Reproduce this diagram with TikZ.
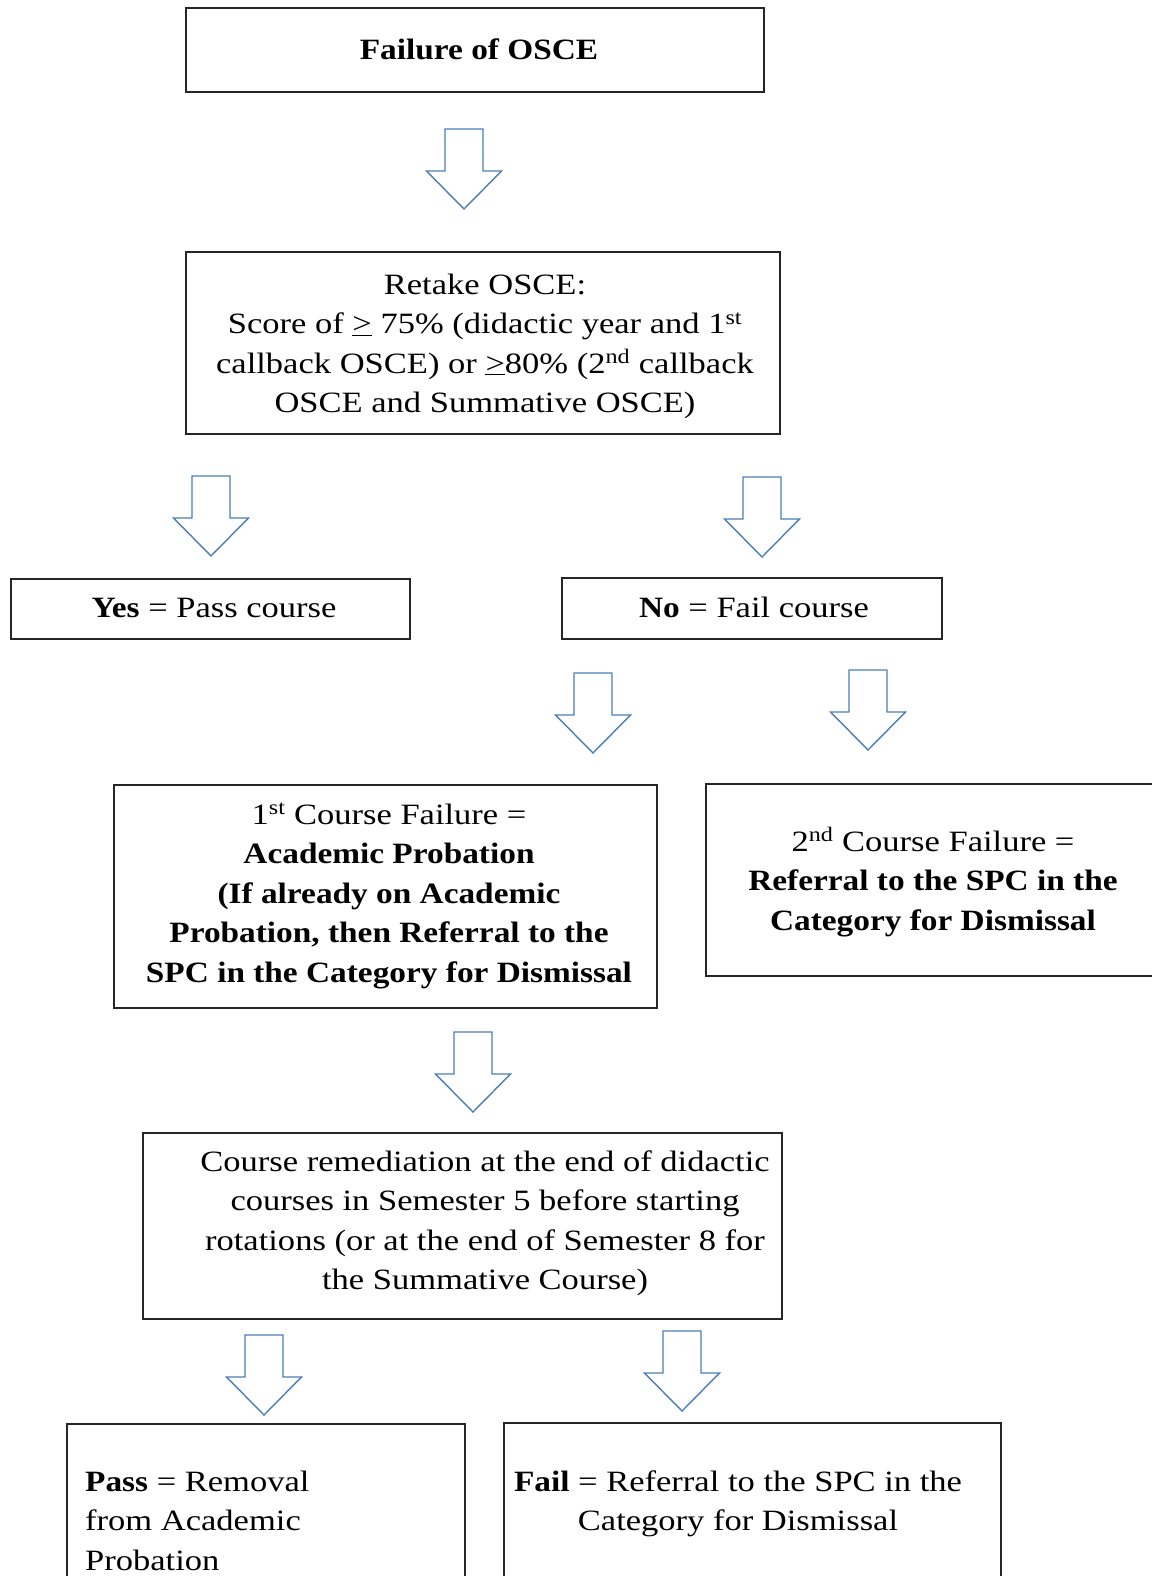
\documentclass[tikz,border=0pt]{standalone}
\usepackage{fontspec}
\setmainfont{Liberation Serif}[FakeStretch=1.17, BoldFeatures={FakeStretch=1.13}]
\newcommand\myfs{\fontsize{29.5}{39.5}\selectfont}
\definecolor{arrblue}{HTML}{4A7EBB}
\tikzset{
  box/.style={draw=black!85, line width=1.3pt, inner sep=0pt},
  txt/.style={anchor=base, inner sep=0pt, font=\myfs},
  arrowline/.style={draw=arrblue, line width=1.4pt, fill=white, line join=miter},
  darr/.pic={\draw[arrowline] (-19,0) -- (19,0) -- (19,42) -- (37.5,42) -- (0,80) -- (-37.5,42) -- (-19,42) -- cycle;}
}
\begin{document}
\begin{tikzpicture}[x=1pt,y=-1pt]
\useasboundingbox[fill=white] (0,0) rectangle (1151,1576);

% boxes
\node[box, minimum width=578pt, minimum height=84pt] (b1) at (475,50) {};
\node[box, minimum width=594pt, minimum height=182pt] (b2) at (483,343) {};
\node[box, minimum width=399pt, minimum height=60pt] (byes) at (210.5,609) {};
\node[box, minimum width=380pt, minimum height=61pt] (bno) at (752,608.5) {};
\node[box, minimum width=543pt, minimum height=223pt] (bfirst) at (385.5,896.5) {};
\node[box, minimum width=494pt, minimum height=192pt] (bsecond) at (953,880) {};
\node[box, minimum width=639pt, minimum height=186pt] (brem) at (462.5,1226) {};
\node[box, minimum width=398pt, minimum height=216pt] (bpass) at (266,1532) {};
\node[box, minimum width=497pt, minimum height=217pt] (bfail) at (752.5,1531.5) {};

% texts
\node[txt] (t1) at (479,60) {\textbf{Failure of OSCE}};
\node[txt] (t2) at (485,294) {\begin{tabular}[t]{@{}c@{}}
Retake OSCE:\\
Score of \underline{>} 75\% (didactic year and 1\textsuperscript{st}\\
callback OSCE) or \underline{>}80\% (2\textsuperscript{nd} callback\\
OSCE and Summative OSCE)\end{tabular}};
\node[txt] (tyes) at (214,617) {\textbf{Yes} = Pass course};
\node[txt] (tno) at (754,617) {\textbf{No} = Fail course};
\node[txt] (tfirst) at (389,824) {\begin{tabular}[t]{@{}c@{}}
1\textsuperscript{st} Course Failure =\\
\textbf{Academic Probation}\\
\textbf{(If already on Academic}\\
\textbf{Probation, then Referral to the}\\
\textbf{SPC in the Category for Dismissal}\end{tabular}};
\node[txt] (tsecond) at (933,851) {\begin{tabular}[t]{@{}c@{}}
2\textsuperscript{nd} Course Failure =\\
\textbf{Referral to the SPC in the}\\
\textbf{Category for Dismissal}\end{tabular}};
\node[txt] (trem) at (485,1171) {\begin{tabular}[t]{@{}c@{}}
Course remediation at the end of didactic\\
courses in Semester 5 before starting\\
rotations (or at the end of Semester 8 for\\
the Summative Course)\end{tabular}};
\node[txt, anchor=base west] (tpass) at (85,1491) {\begin{tabular}[t]{@{}l@{}}
\textbf{Pass} = Removal\\
from Academic\\
Probation\end{tabular}};
\node[txt] (tfail) at (738,1491) {\begin{tabular}[t]{@{}c@{}}
\textbf{Fail} = Referral to the SPC in the\\
Category for Dismissal\end{tabular}};

% block arrows
\pic at (464,129) {darr};
\pic at (211,476) {darr};
\pic at (762,477) {darr};
\pic at (593,673) {darr};
\pic at (868,670) {darr};
\pic at (473,1032) {darr};
\pic at (264,1335) {darr};
\pic at (682,1331) {darr};
\end{tikzpicture}
\end{document}
